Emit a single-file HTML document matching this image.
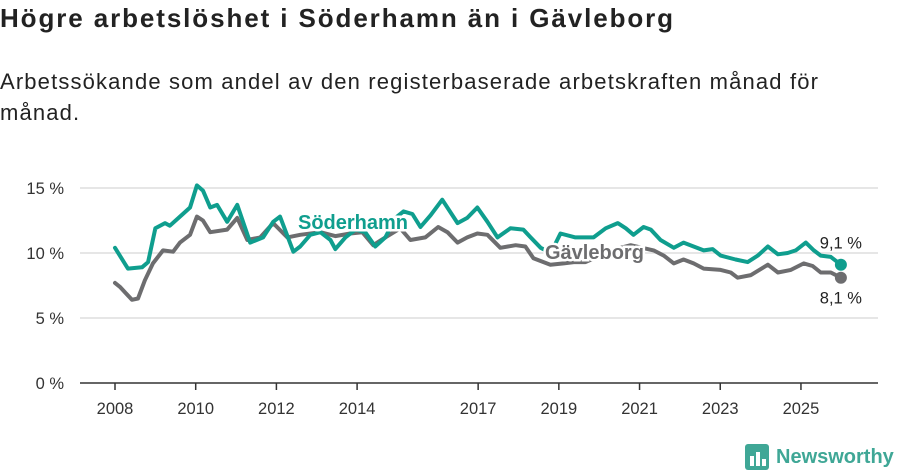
<!DOCTYPE html>
<html><head><meta charset="utf-8"><style>
body{margin:0;background:#fff;width:900px;height:474px;overflow:hidden;font-family:"Liberation Sans",sans-serif;}
h1{position:absolute;left:0;top:3px;margin:0;font-size:26px;letter-spacing:1.9px;font-weight:bold;color:#222;white-space:nowrap;}
p{position:absolute;left:0;top:66px;margin:0;font-size:22px;letter-spacing:1.15px;line-height:31px;color:#222;white-space:nowrap;}
svg{position:absolute;left:0;top:0;}
</style></head><body>
<h1>Högre arbetslöshet i Söderhamn än i Gävleborg</h1>
<p>Arbetssökande som andel av den registerbaserade arbetskraften månad för<br>månad.</p>
<svg id="c" width="900" height="474"></svg>
<script>
const yTicks=[0,5,10,15];
const yTickLabels=["0 %","5 %","10 %","15 %"];
const xTicks=[2008,2010,2012,2014,2017,2019,2021,2023,2025];
const sodT=[2008.0,2008.32,2008.67,2008.82,2009.0,2009.24,2009.36,2009.61,2009.86,2010.03,2010.18,2010.36,2010.53,2010.78,2011.03,2011.35,2011.67,2011.92,2012.09,2012.42,2012.59,2012.84,2013.09,2013.34,2013.46,2013.71,2013.96,2014.2,2014.45,2014.7,2014.95,2015.15,2015.37,2015.57,2015.82,2016.11,2016.49,2016.73,2016.98,2017.23,2017.48,2017.8,2018.12,2018.3,2018.55,2018.8,2019.04,2019.41,2019.86,2020.16,2020.46,2020.66,2020.85,2021.1,2021.28,2021.52,2021.85,2022.09,2022.34,2022.59,2022.81,2023.01,2023.38,2023.68,2023.93,2024.18,2024.43,2024.67,2024.87,2025.12,2025.32,2025.49,2025.74,2025.99];
const sodV=[10.4,8.8,8.9,9.3,11.9,12.3,12.1,12.8,13.5,15.2,14.8,13.5,13.7,12.4,13.7,10.8,11.2,12.4,12.8,10.1,10.5,11.4,11.6,11.0,10.3,11.2,11.8,11.6,10.5,11.2,12.7,13.2,13.0,12.0,12.9,14.1,12.3,12.7,13.5,12.4,11.2,11.9,11.8,11.2,10.4,10.0,11.5,11.2,11.2,11.9,12.3,11.9,11.4,12.0,11.8,11.0,10.4,10.8,10.5,10.2,10.3,9.8,9.5,9.3,9.8,10.5,9.9,10.0,10.2,10.8,10.2,9.8,9.7,9.1];
const gavT=[2008.0,2008.12,2008.42,2008.57,2008.74,2008.94,2009.19,2009.44,2009.61,2009.86,2010.03,2010.18,2010.36,2010.78,2011.03,2011.28,2011.6,2011.92,2012.27,2012.59,2013.09,2013.46,2013.83,2014.13,2014.4,2014.7,2015.07,2015.32,2015.69,2016.01,2016.24,2016.49,2016.73,2016.98,2017.23,2017.55,2017.93,2018.17,2018.37,2018.79,2019.12,2019.37,2019.66,2019.95,2020.28,2020.78,2021.35,2021.6,2021.85,2022.09,2022.34,2022.59,2023.01,2023.26,2023.43,2023.76,2024.18,2024.43,2024.75,2025.07,2025.29,2025.49,2025.74,2025.99];
const gavV=[7.7,7.4,6.4,6.5,7.9,9.2,10.2,10.1,10.8,11.4,12.8,12.5,11.6,11.8,12.7,11.0,11.2,12.3,11.2,11.4,11.6,11.3,11.5,11.6,10.6,11.2,11.9,11.0,11.2,12.0,11.6,10.8,11.2,11.5,11.4,10.4,10.6,10.5,9.6,9.1,9.2,9.3,9.3,9.7,10.2,10.6,10.2,9.8,9.2,9.5,9.2,8.8,8.7,8.5,8.1,8.3,9.1,8.5,8.7,9.2,9.0,8.5,8.5,8.1];
const svg=document.getElementById('c');const NS='http://www.w3.org/2000/svg';
const X=t=>115+(t-2008)*40.35, Y=v=>383-v*13;
function mk(tag,a){const e=document.createElementNS(NS,tag);for(const k in a)e.setAttribute(k,a[k]);svg.appendChild(e);return e;}
yTicks.forEach((v,i)=>{
 if(v>0){const g=mk('line',{x1:80,x2:878,y1:Y(v),y2:Y(v),stroke:'#ddd','stroke-width':1.5});
 
 }
 const t=mk('text',{x:64,y:Y(v)+6,'text-anchor':'end','font-size':16.5,fill:'#333'});t.textContent=yTickLabels[i];
 
 
});
const ax=mk('line',{x1:80,x2:878,y1:383,y2:383,stroke:'#333','stroke-width':1.5});


xTicks.forEach(yr=>{
 const tk=mk('line',{x1:X(yr),x2:X(yr),y1:383,y2:390,stroke:'#333','stroke-width':1.5});
 
 
 const t=mk('text',{x:X(yr),y:414,'text-anchor':'middle','font-size':16.5,fill:'#333'});t.textContent=yr;
 
 
});
function line(T,V,col,name){
 const p=mk('polyline',{points:T.map((t,i)=>X(t)+','+Y(V[i])).join(' '),fill:'none',stroke:col,'stroke-width':4,'stroke-linejoin':'round','stroke-linecap':'round'});
 
 
 const n=T.length-1;
 const d=mk('circle',{cx:X(T[n]),cy:Y(V[n]),r:6,fill:col});
 
 
}
line(gavT,gavV,'#6d6d6f','gavleborg-line');
line(sodT,sodV,'#0f9e8e','soderhamn-line');
function lbl(x,y,txt,col,name,bold,anchor){
 const t=mk('text',{x:x,y:y,'font-size':bold?20:16.5,'font-weight':bold?'bold':'normal',fill:col,stroke:'#fff','stroke-width':bold?5:0,'paint-order':'stroke','text-anchor':anchor||'start'});
 t.textContent=txt;
 
 
}
lbl(298,229,'Söderhamn','#0f9e8e','soderhamn-label',true);
lbl(545,259,'Gävleborg','#6d6d6f','gavleborg-label',true);
lbl(X(sodT[sodT.length-1]),Y(sodV[sodV.length-1])-16,'9,1 %','#222','soderhamn-value-label',false,'middle');
lbl(X(gavT[gavT.length-1]),Y(gavV[gavV.length-1])+26,'8,1 %','#222','gavleborg-value-label',false,'middle');
const r=mk('rect',{x:745,y:444,width:24,height:26,rx:3,fill:'#3fa796'});


[[750,456,4,10],[756,452,4,14],[762,459,4,7]].forEach(b=>{const e=mk('rect',{x:b[0],y:b[1],width:b[2],height:b[3],fill:'#fff'});
 
 });
const lt=mk('text',{x:776,y:463,'font-size':20,'font-weight':'bold',fill:'#3fa796'});lt.textContent='Newsworthy';


</script>
</body></html>
